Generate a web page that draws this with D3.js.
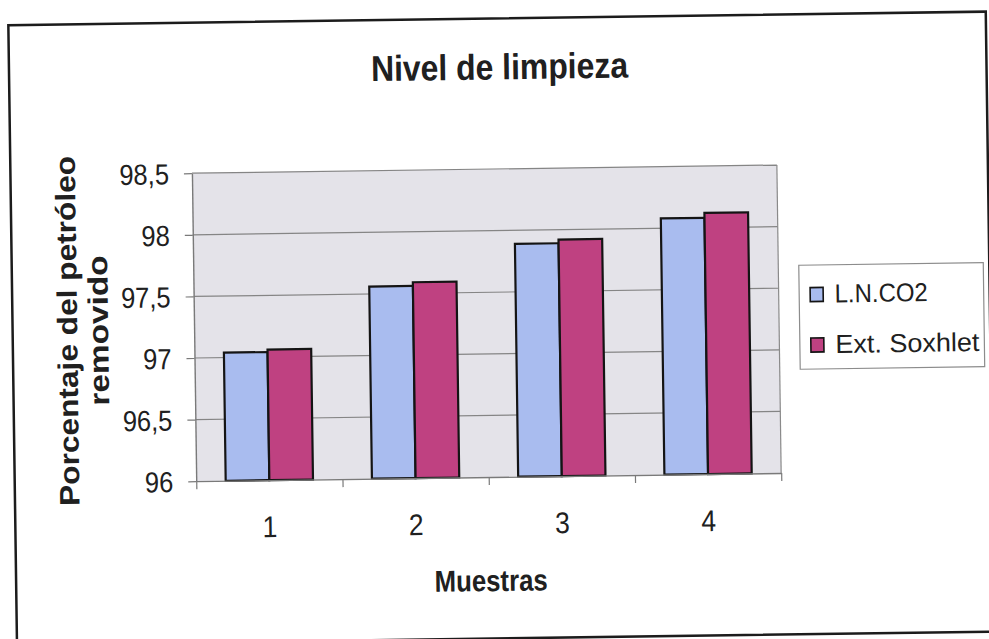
<!DOCTYPE html>
<html>
<head>
<meta charset="utf-8">
<script src="https://cdn.jsdelivr.net/npm/d3@7"></script>
<style>
  html, body { margin: 0; padding: 0; background: #fff; }
  svg { display: block; }
  text { font-family: "Liberation Sans", Arial, sans-serif; fill: #202020; }
</style>
</head>
<body>
<script>
// Data
const categories = ["1", "2", "3", "4"];
const seriesNames = ["L.N.CO2", "Ext. Soxhlet"];
const lnco2 = [97.04, 97.56, 97.89, 98.08];
const soxhlet = [97.06, 97.59, 97.92, 98.12];
const yTickValues = [96, 96.5, 97, 97.5, 98, 98.5];
const yTickLabels = ["96", "96,5", "97", "97,5", "98", "98,5"];

const seriesValues = [lnco2, soxhlet];
const seriesColors = ["#a9bcef", "#bf4181"];

const W = 989, H = 639;
const plot = { left: 194, top: 169, right: 779, bottom: 477 };
const textScaleX = 0.88;

const svg = d3.select("body").append("svg").attr("width", W).attr("height", H);
svg.append("rect").attr("width", W).attr("height", H).attr("fill", "#fff");

// whole sheet sits slightly tilted
const root = svg.append("g").attr("transform", "rotate(-0.8,494.5,319.5)");

// chart frame
root.append("rect")
  .attr("x", 12.5).attr("y", 18.5).attr("width", 977.5).attr("height", 620)
  .attr("fill", "none").attr("stroke", "#1c1c1c").attr("stroke-width", 2.5);

// scales
const x0 = d3.scaleBand().domain(categories).range([plot.left, plot.right]);
const groupW = x0.bandwidth() * 2 / 3.35;
const pad = (x0.bandwidth() - groupW) / 2;
const x1 = d3.scaleBand().domain(seriesNames).range([pad, x0.bandwidth() - pad]);
const y = d3.scaleLinear().domain([96, 98.5]).range([plot.bottom, plot.top]);

// plot area
root.append("rect")
  .attr("x", plot.left).attr("y", plot.top)
  .attr("width", plot.right - plot.left).attr("height", plot.bottom - plot.top)
  .attr("fill", "#e4e3e9");

// gridlines
root.append("g").selectAll("line")
  .data(yTickValues.filter(v => v > 96))
  .join("line")
  .attr("x1", plot.left).attr("x2", plot.right)
  .attr("y1", d => y(d)).attr("y2", d => y(d))
  .attr("stroke", "#858585").attr("stroke-width", 1.2);

// plot border right side
root.append("line")
  .attr("x1", plot.right).attr("x2", plot.right)
  .attr("y1", plot.top).attr("y2", plot.bottom)
  .attr("stroke", "#8a8a8a").attr("stroke-width", 1.2);

// bars
const barData = [];
categories.forEach((c, i) => {
  seriesNames.forEach((s, j) => {
    barData.push({ cat: c, series: s, value: seriesValues[j][i], color: seriesColors[j] });
  });
});
root.append("g").selectAll("rect")
  .data(barData)
  .join("rect")
  .attr("x", d => x0(d.cat) + x1(d.series))
  .attr("y", d => y(d.value))
  .attr("width", x1.bandwidth())
  .attr("height", d => plot.bottom - y(d.value))
  .attr("fill", d => d.color)
  .attr("stroke", "#141414").attr("stroke-width", 2.2);

// y axis
const yAxis = root.append("g")
  .attr("transform", `translate(${plot.left},0)`)
  .call(d3.axisLeft(y).tickValues(yTickValues)
    .tickFormat((d, i) => yTickLabels[i]).tickSize(8).tickSizeOuter(0));
yAxis.select(".domain").attr("stroke", "#7a7a7a").attr("stroke-width", 1.4);
yAxis.selectAll(".tick line").attr("stroke", "#7a7a7a").attr("stroke-width", 1.2);
yAxis.selectAll(".tick text")
  .attr("x", 0).attr("dy", "0.35em")
  .attr("transform", `translate(-23,0) scale(${textScaleX},1)`)
  .attr("font-size", 29).attr("fill", "#202020")
  .style("font-family", "'Liberation Sans', Arial, sans-serif");

// x axis tick marks at category boundaries
const xEdges = d3.scaleLinear().domain([0, categories.length]).range([plot.left, plot.right]);
const xTicks = root.append("g")
  .attr("transform", `translate(0,${plot.bottom})`)
  .call(d3.axisBottom(xEdges).ticks(categories.length).tickFormat("").tickSize(8).tickSizeOuter(0));
xTicks.select(".domain").attr("stroke", "#7a7a7a").attr("stroke-width", 1.4);
xTicks.selectAll(".tick line").attr("stroke", "#7a7a7a").attr("stroke-width", 1.2);

// x axis category labels
const xLabels = root.append("g")
  .attr("transform", `translate(0,${plot.bottom})`)
  .call(d3.axisBottom(x0).tickSize(0));
xLabels.select(".domain").remove();
xLabels.selectAll(".tick text")
  .attr("y", 0).attr("dy", null)
  .attr("transform", `translate(0,57) scale(${textScaleX},1)`)
  .attr("font-size", 30).attr("fill", "#202020")
  .style("font-family", "'Liberation Sans', Arial, sans-serif");

// chart title
root.append("text")
  .attr("x", 503).attr("y", 79.4)
  .attr("text-anchor", "middle")
  .attr("font-size", 36).attr("font-weight", "bold")
  .attr("textLength", 257).attr("lengthAdjust", "spacingAndGlyphs")
  .text("Nivel de limpieza");

// x axis title
root.append("text")
  .attr("x", 487.5).attr("y", 591)
  .attr("text-anchor", "middle")
  .attr("font-size", 30).attr("font-weight", "bold")
  .attr("textLength", 113).attr("lengthAdjust", "spacingAndGlyphs")
  .text("Muestras");

// y axis title (two lines)
const yTitleLines = [
  { text: "Porcentaje del petróleo", x: 77, len: 350 },
  { text: "removido", x: 108, len: 150 }
];
root.append("g").selectAll("text")
  .data(yTitleLines)
  .join("text")
  .attr("transform", d => `translate(${d.x},325) rotate(-90)`)
  .attr("text-anchor", "middle")
  .attr("font-size", 28).attr("font-weight", "bold")
  .attr("textLength", d => d.len).attr("lengthAdjust", "spacingAndGlyphs")
  .text(d => d.text);

// legend
const legend = root.append("g");
legend.append("rect")
  .attr("x", 799.5).attr("y", 269.5).attr("width", 184.5).attr("height", 104)
  .attr("fill", "#fff").attr("stroke", "#8c8c8c").attr("stroke-width", 1.2);
const legendItems = [
  { name: seriesNames[0], color: seriesColors[0], y: 292, len: 93 },
  { name: seriesNames[1], color: seriesColors[1], y: 342.5, len: 144 }
];
const li = legend.selectAll("g.item").data(legendItems).join("g").attr("class", "item");
li.append("rect")
  .attr("x", 810.5).attr("y", d => d.y).attr("width", 13).attr("height", 14)
  .attr("fill", d => d.color).attr("stroke", "#141414").attr("stroke-width", 1.6);
li.append("text")
  .attr("x", 835).attr("y", d => d.y + 15.2)
  .attr("font-size", 26)
  .attr("textLength", d => d.len).attr("lengthAdjust", "spacingAndGlyphs")
  .text(d => d.name);
</script>
</body>
</html>
